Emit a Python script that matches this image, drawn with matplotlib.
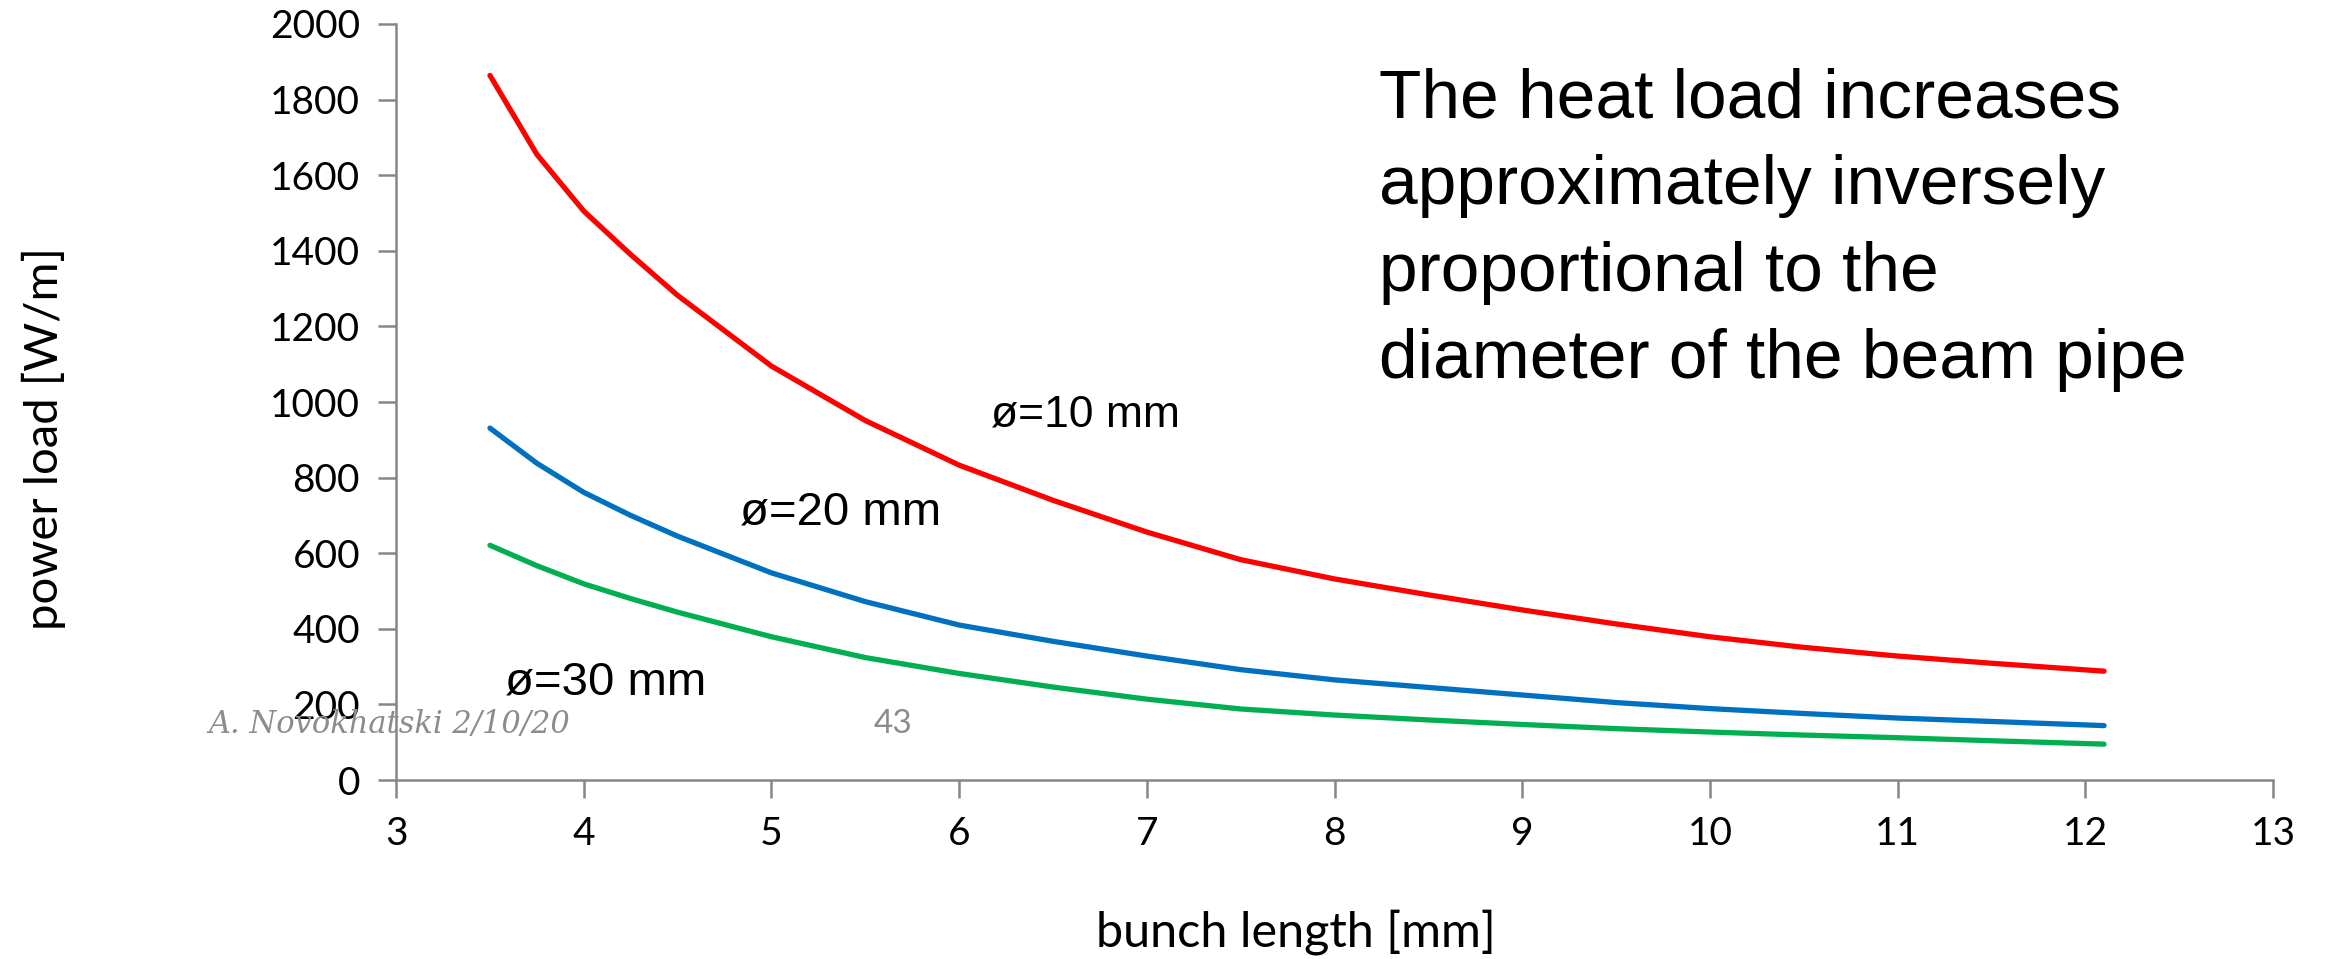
import matplotlib
matplotlib.use("Agg")
import matplotlib.pyplot as plt
import numpy as np

# bunch length [mm]
bunch_len = [3.5, 3.75, 4.0, 4.25, 4.5, 5.0, 5.5, 6.0, 6.5, 7.0, 7.5,
             8.0, 8.5, 9.0, 9.5, 10.0, 10.5, 11.0, 11.5, 12.1]
# power load [W/m] for three pipe diameters
load_10mm = [1864, 1655, 1505, 1390, 1282, 1095, 951, 833, 740, 656, 583,
             532, 490, 450, 413, 379, 351, 328, 309, 288]
load_20mm = [931, 838, 761, 700, 645, 548, 472, 410, 367, 328, 292,
             265, 245, 225, 205, 189, 176, 164, 155, 144]
load_30mm = [621, 567, 519, 480, 444, 379, 324, 282, 246, 214, 188,
             172, 159, 147, 136, 127, 119, 112, 104, 95]

x_ticks = list(range(3, 14))
y_ticks = list(range(0, 2001, 200))

grey = "#868686"
tick_font = "Lato"

fig = plt.figure(figsize=(23.26, 9.59), dpi=100)
ax = fig.add_axes([0.1703, 0.1866, 0.8069, 0.7884])

ax.plot(bunch_len, load_10mm, color="#FF0000", lw=3.8, solid_capstyle="round")
ax.plot(bunch_len, load_20mm, color="#0070C0", lw=3.8, solid_capstyle="round")
ax.plot(bunch_len, load_30mm, color="#00B050", lw=3.8, solid_capstyle="round")

ax.set_xlim(3, 13)
ax.set_ylim(0, 2000)
ax.set_xticks(x_ticks)
ax.set_yticks(y_ticks)
for s in ["top", "right"]:
    ax.spines[s].set_visible(False)
for s in ["left", "bottom"]:
    ax.spines[s].set_color(grey)
    ax.spines[s].set_linewidth(1.8)
ax.tick_params(axis="both", direction="out", length=13, width=1.8, color=grey,
               labelsize=28, labelfontfamily=tick_font)
ax.tick_params(axis="x", pad=13)
ax.tick_params(axis="y", pad=13)

fig.text(0.557, 0.028, "bunch length [mm]", ha="center", va="center",
         fontsize=35, family=tick_font)
fig.text(0.019, 0.543, "power load [W/m]", ha="center", va="center",
         rotation=90, fontsize=34, family=tick_font)

# curve labels
ax.text(6.17, 966, "ø=10 mm", fontsize=32, family="Liberation Sans", va="center")
ax.text(4.83, 709, "ø=20 mm", fontsize=34, family="Liberation Sans", va="center")
ax.text(3.58, 259, "ø=30 mm", fontsize=34, family="Liberation Sans", va="center")

fig.text(0.593, 0.930,
         "The heat load increases\napproximately inversely\nproportional to the\ndiameter of the beam pipe",
         ha="left", va="top", fontsize=50, family="Liberation Sans", linespacing=1.46)

# slide footer (overlaps the 200 tick label, as on the slide)
fig.text(0.0895, 0.245, "A. Novokhatski 2/10/20", ha="left", va="center",
         fontsize=22, family="DejaVu Serif", style="italic", color="#8c8c8c")
fig.text(0.384, 0.245, "43", ha="center", va="center",
         fontsize=24, family=tick_font, color="#8c8c8c")

fig.savefig("out.png", dpi=100)
